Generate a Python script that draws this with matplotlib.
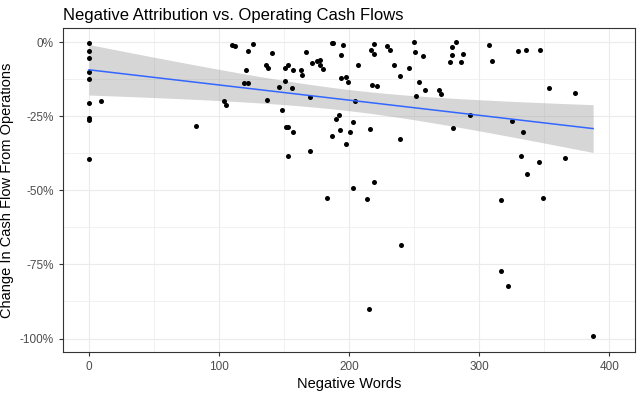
import numpy as np
import matplotlib
matplotlib.use('Agg')
import matplotlib.pyplot as plt
from matplotlib.ticker import MultipleLocator, FuncFormatter

plt.rcParams['font.family'] = ['Liberation Sans', 'DejaVu Sans']

# negative words (x) and change in operating cash flow in % (y)
neg_words = [0, 0, 0, 0, 0, 0, 0, 0, 0, 9.5, 82, 103.8, 105.4, 110, 112, 119, 121, 122,
             122.6, 126, 136, 137.3, 137, 141, 146, 148.8, 150.8, 151, 151.5, 153.4,
             152.8, 153.4, 156, 156.7, 156.7, 163, 163.7, 166.7, 170, 170, 171.8, 175.4,
             178, 178, 180, 183, 186.5, 188, 187.2, 190, 192.3, 193, 193.8, 193.6, 195,
             197.7, 198, 199.5, 200.8, 202.8, 203, 204.4, 207.2, 214, 215, 216.1, 217.2,
             219.2, 219.2, 217.7, 219.3, 221.5, 229, 231.3, 234.6, 239, 239, 240, 246,
             249.8, 251, 251.3, 254, 257, 258.5, 268.8, 270.5, 278, 279, 279, 280.3,
             282.6, 286, 287.5, 292.8, 308, 310, 317.2, 317.2, 322.3, 325, 329.8, 332,
             333.4, 336, 336.5, 346, 347, 349, 354, 366, 373.8, 387.7]
cash_change = [-0.3, -2.9, -5.4, -10.1, -12.5, -20.4, -25.6, -26.2, -39.4, -19.8, -28.2,
               -19.7, -21.3, -1.0, -1.4, -13.9, -9.5, -13.9, -3.0, -0.5, -7.7, -8.6, -19.5,
               -3.7, -15.1, -23.0, -8.6, -13.2, -28.5, -28.5, -38.4, -7.7, -15.4, -9.5,
               -30.4, -9.4, -11.2, -3.3, -18.6, -36.6, -7.0, -6.4, -5.9, -7.7, -8.9, -52.5,
               -0.3, -0.3, -31.7, -26.0, -24.5, -29.7, -4.2, -12.0, -1.0, -11.6, -34.5,
               -13.3, -30.4, -49.3, -27.0, -19.8, -7.8, -52.8, -90.0, -29.4, -2.5, -0.7,
               -4.0, -14.3, -47.3, -14.8, -1.3, -2.7, -7.6, -11.3, -32.6, -68.5, -8.6,
               -0.1, -3.3, -18.1, -13.5, -4.7, -16.0, -16.2, -17.6, -6.8, -1.5, -4.4,
               -29.1, -0.1, -6.8, -4.0, -24.6, -1.1, -6.4, -53.2, -77.2, -82.2, -26.5,
               -3.0, -38.4, -30.4, -2.7, -44.4, -40.4, -2.6, -52.6, -15.4, -39.1, -17.2,
               -99.0]

x = np.array(neg_words)
y = np.array(cash_change)

# linear fit with 95% confidence band (like geom_smooth(method='lm'))
n = len(x)
slope, intercept = np.polyfit(x, y, 1)
resid = y - (slope * x + intercept)
s = np.sqrt(np.sum(resid ** 2) / (n - 2))
xs = np.linspace(x.min(), x.max(), 80)
fit = slope * xs + intercept
se = s * np.sqrt(1 / n + (xs - x.mean()) ** 2 / np.sum((x - x.mean()) ** 2))
t_val = 1.981
lower = fit - t_val * se
upper = fit + t_val * se

fig = plt.figure(figsize=(6.4, 3.94), dpi=100)
ax = fig.add_axes([0.0984, 0.107, 0.894, 0.822])

ax.scatter(x, y, s=13, color='black', zorder=3, linewidths=0)
ax.fill_between(xs, lower, upper, color='#999999', alpha=0.4, linewidth=0, zorder=2)
ax.plot(xs, fit, color='#3366FF', linewidth=1.1, zorder=4)

ax.set_xlim(-20, 420)
ax.set_ylim(-104.5, 4.8)
ax.xaxis.set_major_locator(MultipleLocator(100))
ax.xaxis.set_minor_locator(MultipleLocator(50))
ax.yaxis.set_major_locator(MultipleLocator(25))
ax.yaxis.set_minor_locator(MultipleLocator(12.5))
ax.yaxis.set_major_formatter(FuncFormatter(lambda v, p: '%d%%' % v))

ax.grid(which='major', color='#EBEBEB', linewidth=0.8, zorder=0)
ax.grid(which='minor', color='#EBEBEB', linewidth=0.5, zorder=0)
ax.set_axisbelow(True)
for sp in ax.spines.values():
    sp.set_color('#333333')
    sp.set_linewidth(0.8)
ax.tick_params(which='major', length=3, color='#333333', labelcolor='#4D4D4D', labelsize=8.5, width=0.8)
ax.tick_params(which='minor', length=0)

ax.set_xlabel('Negative Words', fontsize=10.5, labelpad=3)
ax.set_ylabel('Change In Cash Flow From Operations', fontsize=10.5, labelpad=4)
ax.set_title('Negative Attribution vs. Operating Cash Flows', fontsize=12, loc='left', x=0, pad=6)

fig.savefig('out.png', dpi=100)
